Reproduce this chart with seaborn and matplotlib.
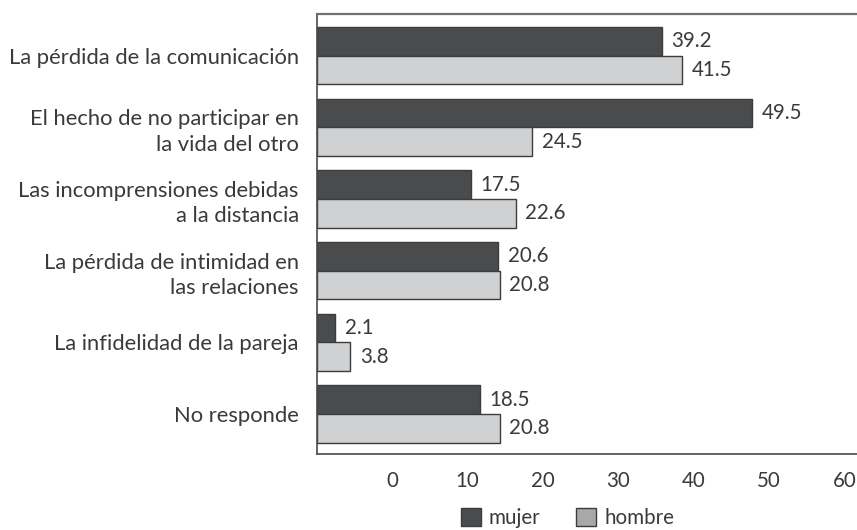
import matplotlib
matplotlib.use("Agg")
import matplotlib.pyplot as plt
import seaborn as sns
import pandas as pd
from matplotlib.patches import Patch

categories = [
    "La pérdida de la comunicación",
    "El hecho de no participar en\nla vida del otro",
    "Las incomprensiones debidas\na la distancia",
    "La pérdida de intimidad en\nlas relaciones",
    "La infidelidad de la pareja",
    "No responde",
]
mujer = [39.2, 49.5, 17.5, 20.6, 2.1, 18.5]
hombre = [41.5, 24.5, 22.6, 20.8, 3.8, 20.8]
series_names = ["mujer", "hombre"]
tick_values = [0, 10, 20, 30, 40, 50, 60]

df = pd.DataFrame({
    "cat": categories * 2,
    "val": mujer + hombre,
    "sexo": [series_names[0]] * len(categories) + [series_names[1]] * len(categories),
})

sns.set_style("white")
plt.rcParams["font.family"] = ["Lato", "DejaVu Sans"]
TXT = "#3a3a3a"
DARK = "#4a4b4d"
LIGHT = "#d0d1d3"
LEG_LIGHT = "#a7a8aa"
EDGE = "#3c3c3c"
FS = 14.8
FS_CAT = 15.8

fig = plt.figure(figsize=(8.57, 5.30), dpi=100)
W, H = 857, 530
left_px, top_px, bot_px = 316.7, 14, 454
xmax = 62
px_per_unit = 8.8
right_px = left_px + xmax * px_per_unit
ax = fig.add_axes([left_px / W, 1 - bot_px / H, (right_px - left_px) / W, (bot_px - top_px) / H])

sns.barplot(data=df, y="cat", x="val", hue="sexo", orient="h", ax=ax,
            palette=[DARK, LIGHT], edgecolor=EDGE, linewidth=1.0, width=0.8,
            legend=False, saturation=1)

for cont in ax.containers:
    ax.bar_label(cont, labels=[f"{v:.1f}" for v in cont.datavalues],
                 padding=7, fontsize=FS, color=TXT)

ax.set_xlim(0, xmax)
ax.set_ylim(5.56, -0.58)
ax.set_xlabel("")
ax.set_ylabel("")
ax.set_xticks([])
ax.tick_params(axis="y", length=0, pad=13, labelsize=FS_CAT, labelcolor=TXT)
for lbl in ax.get_yticklabels():
    lbl.set_horizontalalignment("right")
    lbl.set_linespacing(1.35)

for side in ["left", "bottom"]:
    ax.spines[side].set_color("#4a4a4a")
    ax.spines[side].set_linewidth(1.2)
ax.spines["top"].set_color("#707070")
ax.spines["top"].set_linewidth(1.6)
ax.spines["right"].set_visible(False)

sec = ax.secondary_xaxis("bottom", functions=(lambda x: x * 70 / 60 - 10,
                                             lambda v: (v + 10) * 60 / 70))
sec.set_xticks(tick_values)
sec.set_xticklabels([str(v) for v in tick_values])
sec.tick_params(length=0, pad=12, labelsize=FS, labelcolor=TXT)
sec.spines["bottom"].set_visible(False)

handles = [Patch(facecolor=DARK, edgecolor=EDGE, label=series_names[0]),
           Patch(facecolor=LEG_LIGHT, edgecolor=EDGE, label=series_names[1])]
fig.legend(handles=handles, loc="upper left", bbox_to_anchor=(461 / W, 1 - 508 / H),
           ncol=2, frameon=False, fontsize=FS, handlelength=0.95, handleheight=0.95,
           handletextpad=0.4, columnspacing=1.75, borderpad=0, borderaxespad=0,
           labelcolor=TXT)

fig.savefig("out.png", dpi=100)
